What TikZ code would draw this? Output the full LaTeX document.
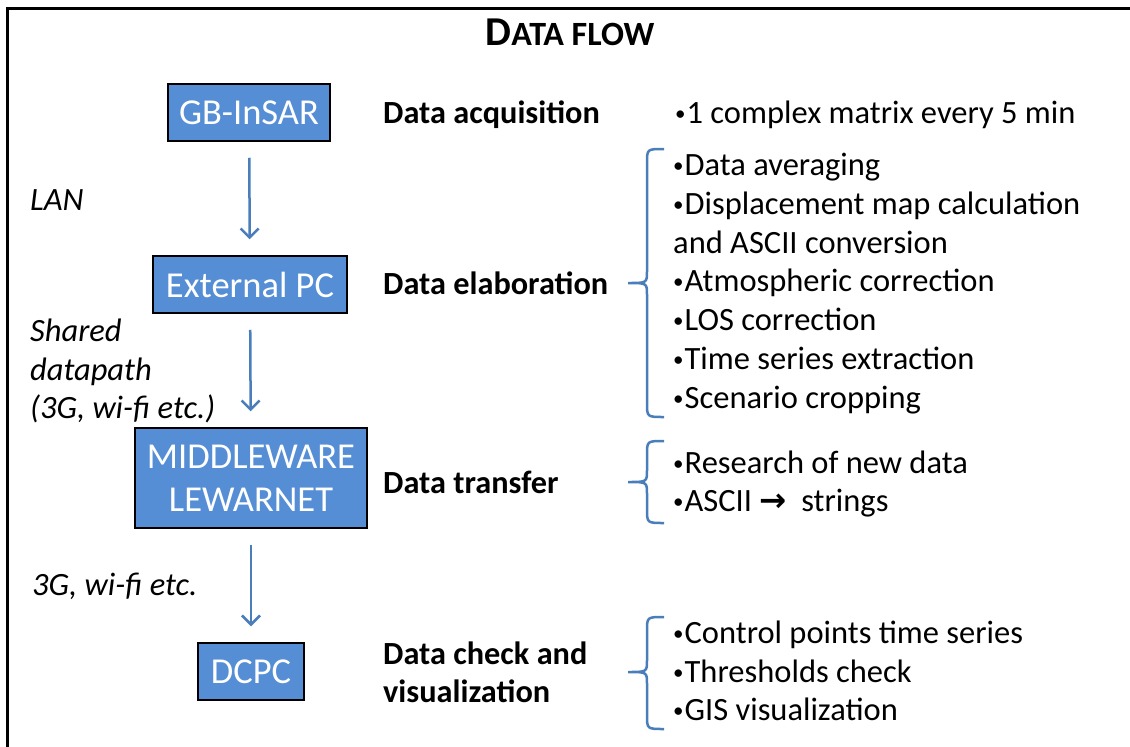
\documentclass[tikz,border=0pt]{standalone}
\usepackage{fontspec}
\setmainfont{Carlito}
\newfontfamily\arrowfont{DejaVu Sans}
\usetikzlibrary{arrows.meta}

\definecolor{boxblue}{HTML}{558ED5}
\definecolor{lineblue}{HTML}{4A7EBB}

\tikzset{
    unitbox/.style={draw=black, line width=1.5pt, fill=boxblue, text=white,
        inner sep=0pt, align=center, font=\fontsize{36.5}{43}\selectfont},
    phase/.style={anchor=base west, inner sep=0pt, align=left,
        font=\fontsize{32.3}{38}\selectfont\bfseries},
    item/.style={anchor=base west, inner sep=0pt, font=\fontsize{32.5}{38}\selectfont},
    link/.style={anchor=base west, inner sep=0pt, font=\fontsize{32.5}{38}\selectfont\itshape},
    flow/.style={draw=lineblue, line width=2.5pt, shorten <=16pt, shorten >=16pt,
        -{Straight Barb[length=9pt,width=18pt,line width=2.5pt]}},
    brace/.style={draw=lineblue, line width=2.5pt}
}

% small bullet as in the slide
\newcommand\bul{\raisebox{3pt}{\fontsize{21}{21}\selectfont •}\hspace{1pt}}

% left brace: top y, tip y, bottom y
\newcommand\sidebrace[3]{%
    \draw[brace] (664,#1) .. controls (647,#1) .. (647,#1+14) -- (647,#2-12)
        .. controls (647,#2) .. (628,#2) .. controls (647,#2) .. (647,#2+12)
        -- (647,#3-14) .. controls (647,#3) .. (664,#3);}

\begin{document}
\begin{tikzpicture}[x=1pt, y=-1pt]
    \useasboundingbox (0,0) rectangle (1130,747);
    \draw[line width=3pt] (7,747) -- (7,8) -- (1130,8);

    \node[anchor=base, inner sep=0pt] (title) at (570,45)
        {\bfseries\fontsize{41}{46}\selectfont D\fontsize{34}{38}\selectfont ATA FLOW};

    % units
    \node[unitbox, minimum width=162pt, minimum height=57pt] (gbinsar) at (249,112.5) {GB-InSAR};
    \node[unitbox, minimum width=194pt, minimum height=57pt] (extpc) at (250,284.5) {External PC};
    \node[unitbox, minimum width=232pt, minimum height=100pt] (middleware) at (251,478) {MIDDLEWARE\\LEWARNET};
    \node[unitbox, minimum width=106pt, minimum height=57pt] (dcpc) at (251,671.5) {DCPC};

    \draw[flow] (gbinsar) -- (extpc);
    \draw[flow] (extpc) -- (middleware);
    \draw[flow] (middleware) -- (dcpc);

    % links
    \node[link] (lan) at (30,210) {LAN};
    \node[link] (shared1) at (30,341) {Shared};
    \node[link] (shared2) at (30,380) {datapath};
    \node[link] (shared3) at (30,418) {(3G, wi-fi etc.)};
    \node[link] (wireless) at (32,595) {3G, wi-fi etc.};

    % phases
    \node[phase] (acquisition) at (383,123) {Data acquisition};
    \node[phase] (elaboration) at (383,294) {Data elaboration};
    \node[phase] (transfer) at (383,493) {Data transfer};
    \node[phase] (check1) at (383,664) {Data check and};
    \node[phase] (check2) at (383,702) {visualization};

    % tasks
    \node[item] (acq1) at (675,123) {\bul 1 complex matrix every 5 min};
    \foreach \txt/\yy [count=\i] in {\bul Data averaging/175, \bul Displacement map calculation/214,
            and ASCII conversion/253, \bul Atmospheric correction/291, \bul LOS correction/330,
            \bul Time series extraction/369, \bul Scenario cropping/408}
        \node[item] (elab\i) at (673,\yy) {\txt};
    \node[item] (trans1) at (673,473) {\bul Research of new data};
    \node[item] (trans2) at (673,511) {\bul ASCII {\arrowfont\bfseries →}\ \ strings};
    \foreach \txt/\yy [count=\i] in {\bul Control points time series/643,
            \bul Thresholds check/682, \bul GIS visualization/720}
        \node[item] (chk\i) at (673,\yy) {\txt};

    \sidebrace{149}{283}{417}
    \sidebrace{441}{482}{523}
    \sidebrace{617}{672}{729}
\end{tikzpicture}
\end{document}
